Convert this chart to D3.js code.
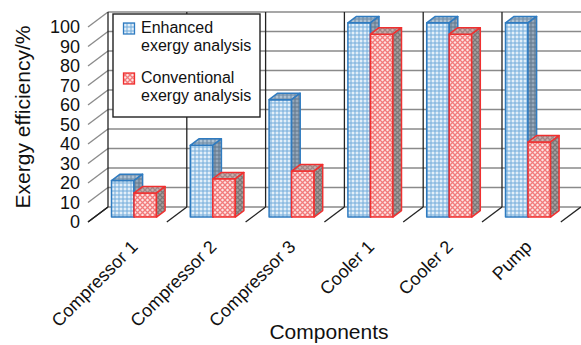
<!DOCTYPE html>
<html>
<head>
<meta charset="utf-8">
<script src="https://cdn.jsdelivr.net/npm/d3@7"></script>
<style>
  body { margin: 0; background: #fff; }
  text { font-family: "Liberation Sans", Arial, sans-serif; fill: #111; }
</style>
</head>
<body>
<script>
// chart data
var categories = ["Compressor 1", "Compressor 2", "Compressor 3", "Cooler 1", "Cooler 2", "Pump"];
var enhanced = [18.7, 36.8, 60.2, 99.6, 99.6, 99.6];
var conventional = [12.3, 19.6, 23.6, 93.8, 93.8, 38.5];
var yTicks = [0, 10, 20, 30, 40, 50, 60, 70, 80, 90, 100];
var legendLines = [["Enhanced", "exergy analysis"], ["Conventional", "exergy analysis"]];

var svgWidth = 581;
var svgHeight = 345;

var svg = d3.select("body")
  .append("svg")
  .attr("width", svgWidth)
  .attr("height", svgHeight);

// 3d depth of the floor (front -> back)
var depthX = 20, depthY = -15;

var x = d3.scaleBand()
  .domain(categories)
  .range([88, 88 + 6 * 78.8]);

var y = d3.scaleLinear()
  .domain([0, 100])
  .range([222, 27]);

// point on the floor grid at depth z (0 = front, 1 = back)
function proj(px, v, z) {
  return [px + depthX * z, y(v) + depthY * z];
}

// patterns
var defs = svg.append("defs");

function dotPattern(id, bg, c1, c2) {
  var p = defs.append("pattern").attr("id", id)
    .attr("patternUnits", "userSpaceOnUse").attr("width", 4).attr("height", 4);
  p.append("rect").attr("width", 4).attr("height", 4).attr("fill", bg);
  p.append("circle").attr("cx", 1).attr("cy", 1).attr("r", 0.9).attr("fill", c1);
  p.append("circle").attr("cx", 3).attr("cy", 3).attr("r", 0.8).attr("fill", c2);
}
function latticePattern(id, bg, line) {
  var p = defs.append("pattern").attr("id", id)
    .attr("patternUnits", "userSpaceOnUse").attr("width", 5).attr("height", 5);
  p.append("rect").attr("width", 5).attr("height", 5).attr("fill", bg);
  p.append("path").attr("d", "M0,0L5,5M5,0L0,5")
    .attr("stroke", line).attr("stroke-width", 1.3);
}
dotPattern("enhFront", "#a9cdea", "#ffffff", "#6fa6d6");
dotPattern("enhSide", "#7a8ea2", "#a4b4c4", "#5f748a");
dotPattern("enhTop", "#8aa4bc", "#c0d0de", "#6c869e");
latticePattern("convFront", "#fde3e3", "#f27a7a");
latticePattern("convSide", "#a8a2a2", "#7d7777");
latticePattern("convTop", "#c9aeae", "#a08686");

// back wall gridlines
var grid = svg.append("g");
grid.selectAll(".hgrid")
  .data(yTicks)
  .enter()
  .append("line")
  .attr("x1", d => proj(88, d, 1)[0])
  .attr("x2", svgWidth)
  .attr("y1", d => proj(88, d, 1)[1])
  .attr("y2", d => proj(88, d, 1)[1])
  .attr("stroke", "#8a8a8a")
  .attr("stroke-width", 1.4);

// left wall lines
grid.selectAll(".lgrid")
  .data(yTicks)
  .enter()
  .append("line")
  .attr("x1", d => proj(88, d, 0)[0])
  .attr("y1", d => proj(88, d, 0)[1])
  .attr("x2", d => proj(88, d, 1)[0])
  .attr("y2", d => proj(88, d, 1)[1])
  .attr("stroke", d => d === 0 ? "#222" : "#8a8a8a")
  .attr("stroke-width", 1.3);

// back wall category dividers
grid.selectAll(".vgrid")
  .data(categories)
  .enter()
  .append("line")
  .attr("x1", d => proj(x(d), 0, 1)[0])
  .attr("x2", d => proj(x(d), 0, 1)[0])
  .attr("y1", proj(88, 100, 1)[1])
  .attr("y2", proj(88, 0, 1)[1])
  .attr("stroke", "#222")
  .attr("stroke-width", 1.3);

// floor dividers
var floorEdges = categories.map(d => x(d)).concat([x.range()[1]]);
grid.selectAll(".fgrid")
  .data(floorEdges)
  .enter()
  .append("line")
  .attr("x1", d => proj(d, 0, 0)[0])
  .attr("y1", d => proj(d, 0, 0)[1])
  .attr("x2", d => proj(d, 0, 1)[0])
  .attr("y2", d => proj(d, 0, 1)[1])
  .attr("stroke", "#222")
  .attr("stroke-width", 1.3);

// bars
var barW = 22.5, z0 = 0.33, z1 = 0.76;
var series = [
  { values: enhanced, offset: -barW, front: "enhFront", side: "enhSide", top: "enhTop", stroke: "#2f7bc0" },
  { values: conventional, offset: 0, front: "convFront", side: "convSide", top: "convTop", stroke: "#f03030" }
];

function pts(list) {
  return list.map(p => p.join(",")).join(" ");
}

var bars = svg.append("g");
categories.forEach(function (cat, i) {
  var center = x(cat) + x.bandwidth() / 2;
  series.forEach(function (s) {
    var v = s.values[i];
    var xl = center + s.offset, xr = xl + barW;
    var fbl = proj(xl, 0, z0), fbr = proj(xr, 0, z0);
    var ftl = proj(xl, v, z0), ftr = proj(xr, v, z0);
    var btl = proj(xl, v, z1), btr = proj(xr, v, z1);
    var bbr = proj(xr, 0, z1);
    var g = bars.append("g")
      .attr("stroke", s.stroke)
      .attr("stroke-width", 1.5)
      .attr("stroke-linejoin", "round");
    g.append("polygon")
      .attr("points", pts([fbl, fbr, ftr, ftl]))
      .attr("fill", "url(#" + s.front + ")");
    g.append("polygon")
      .attr("points", pts([ftl, ftr, btr, btl]))
      .attr("fill", "url(#" + s.top + ")");
    g.append("polygon")
      .attr("points", pts([fbr, bbr, btr, ftr]))
      .attr("fill", "url(#" + s.side + ")");
  });
});

// y axis labels
var yAxis = d3.axisLeft(y).tickValues(yTicks).tickSize(0).tickPadding(8);
var yG = svg.append("g")
  .attr("transform", "translate(88,0)")
  .call(yAxis);
yG.select(".domain").remove();
yG.selectAll("text")
  .style("font-size", "18px")
  .style("font-family", "'Liberation Sans', Arial, sans-serif")
  .attr("fill", "#111");

// x axis labels
var xAxis = d3.axisBottom(x).tickSize(0).tickPadding(0);
var xG = svg.append("g")
  .attr("transform", "translate(11.5,248)")
  .call(xAxis);
xG.select(".domain").remove();
xG.selectAll("text")
  .attr("x", 0)
  .attr("y", 0)
  .attr("dy", 0)
  .attr("transform", "rotate(-45)")
  .style("text-anchor", "end")
  .style("font-size", "18px")
  .style("font-family", "'Liberation Sans', Arial, sans-serif")
  .attr("fill", "#111");

// axis titles
svg.append("text")
  .attr("transform", "translate(30,117) rotate(-90)")
  .style("text-anchor", "middle")
  .style("font-size", "21px")
  .text("Exergy efficiency/%");

svg.append("text")
  .attr("x", 329)
  .attr("y", 339)
  .style("text-anchor", "middle")
  .style("font-size", "21px")
  .text("Components");

// legend
var legend = svg.append("g");
legend.append("rect")
  .attr("x", 113)
  .attr("y", 14)
  .attr("width", 147)
  .attr("height", 103)
  .attr("fill", "#fff")
  .attr("stroke", "#222")
  .attr("stroke-width", 1.4);

legendLines.forEach(function (lines, i) {
  var top = 23 + i * 50;
  legend.append("rect")
    .attr("x", 123.5)
    .attr("y", top)
    .attr("width", 11)
    .attr("height", 11)
    .attr("fill", "url(#" + series[i].front + ")")
    .attr("stroke", series[i].stroke)
    .attr("stroke-width", 1.3);
  lines.forEach(function (t, j) {
    legend.append("text")
      .attr("x", 141)
      .attr("y", top + 9.5 + j * 18)
      .style("font-size", "16px")
      .text(t);
  });
});
</script>
</body>
</html>
